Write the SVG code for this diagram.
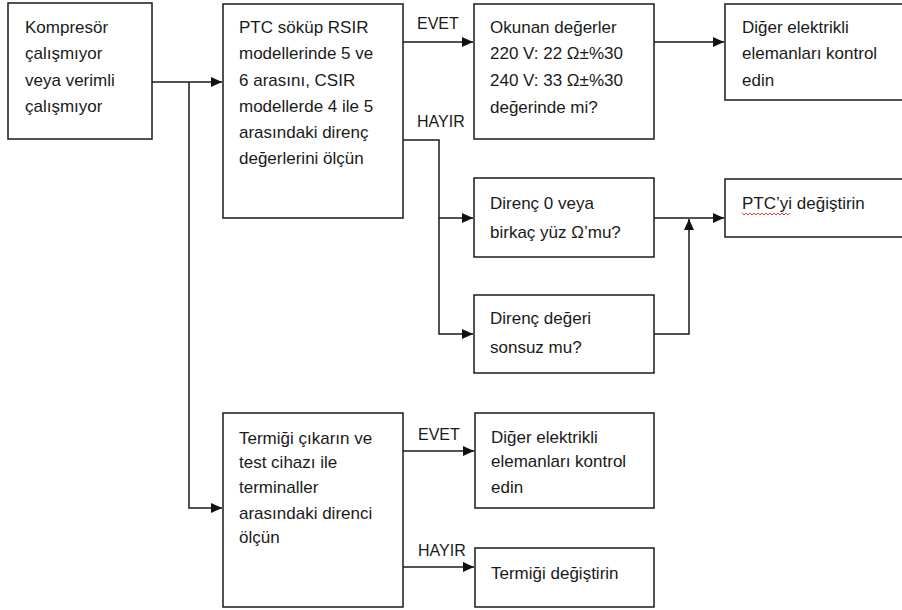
<svg xmlns="http://www.w3.org/2000/svg" width="902" height="610" viewBox="0 0 902 610">
<defs>
<style>
.box{fill:#fff;stroke:#1a1a1a;stroke-width:1.5}
.t{font-family:"Liberation Sans",Arial,sans-serif;font-size:17px;fill:#1a1a1a}
.lbl{font-family:"Liberation Sans",Arial,sans-serif;font-size:16px;fill:#1a1a1a}
.c{fill:none;stroke:#1a1a1a;stroke-width:1.5}
</style>
<marker id="ah" markerUnits="userSpaceOnUse" markerWidth="12" markerHeight="11" refX="11" refY="5" orient="auto">
<path d="M0,0 L11,5 L0,10 z" fill="#111"/>
</marker>
</defs>
<rect width="902" height="610" fill="#fff"/>
<g id="connectors">
<path class="c" d="M152,82 H222" marker-end="url(#ah)"/>
<path class="c" d="M189,82 V508 H222" marker-end="url(#ah)"/>
<path class="c" d="M403,42 H473" marker-end="url(#ah)"/>
<path class="c" d="M403,140 H439 V334 H473" marker-end="url(#ah)"/>
<path class="c" d="M439,218 H473" marker-end="url(#ah)"/>
<path class="c" d="M654,42 H724" marker-end="url(#ah)"/>
<path class="c" d="M654,218 H724" marker-end="url(#ah)"/>
<path class="c" d="M654,334 H689 V219" marker-end="url(#ah)"/>
<path class="c" d="M403,451 H474" marker-end="url(#ah)"/>
<path class="c" d="M403,567 H474" marker-end="url(#ah)"/>
<text class="lbl" x="417" y="29">EVET</text>
<text class="lbl" x="417" y="127">HAYIR</text>
<text class="lbl" x="418" y="440">EVET</text>
<text class="lbl" x="418" y="556">HAYIR</text>
</g>
<g id="n1">
<rect class="box" x="8" y="3" width="144" height="136"/>
<text class="t"><tspan x="25" y="33">Kompresör</tspan><tspan x="25" y="59">çalışmıyor</tspan><tspan x="25" y="86">veya verimli</tspan><tspan x="25" y="112">çalışmıyor</tspan></text>
</g>
<g id="n2">
<rect class="box" x="223" y="4" width="180" height="214"/>
<text class="t"><tspan x="239" y="33">PTC söküp RSIR</tspan><tspan x="239" y="59">modellerinde 5 ve</tspan><tspan x="239" y="86">6 arasını, CSIR</tspan><tspan x="239" y="112">modellerde 4 ile 5</tspan><tspan x="239" y="138">arasındaki direnç</tspan><tspan x="239" y="164">değerlerini ölçün</tspan></text>
</g>
<g id="n3">
<rect class="box" x="474" y="4" width="180" height="135"/>
<text class="t"><tspan x="490" y="33">Okunan değerler</tspan><tspan x="490" y="59">220 V: 22 Ω±%30</tspan><tspan x="490" y="86">240 V: 33 Ω±%30</tspan><tspan x="490" y="113">değerinde mi?</tspan></text>
</g>
<g id="n4">
<rect class="box" x="725" y="4" width="190" height="96"/>
<text class="t"><tspan x="742" y="33">Diğer elektrikli</tspan><tspan x="742" y="59">elemanları kontrol</tspan><tspan x="742" y="86">edin</tspan></text>
</g>
<g id="n5">
<rect class="box" x="474" y="178" width="180" height="79"/>
<text class="t"><tspan x="490" y="209">Direnç 0 veya</tspan><tspan x="490" y="238">birkaç yüz Ω’mu?</tspan></text>
</g>
<g id="n6">
<rect class="box" x="725" y="179" width="190" height="58"/>
<text class="t" x="742" y="209">PTC’yi değiştirin</text>
<path d="M742,213 l2,2 l2,-2 l2,2 l2,-2 l2,2 l2,-2 l2,2 l2,-2 l2,2 l2,-2 l2,2 l2,-2 l2,2 l2,-2 l2,2 l2,-2 l2,2 l2,-2 l2,2 l2,-2 l2,2 l2,-2 l2,2 l2,-2" fill="none" stroke="#e03030" stroke-width="0.9"/>
</g>
<g id="n7">
<rect class="box" x="474" y="295" width="180" height="78"/>
<text class="t"><tspan x="490" y="324">Direnç değeri</tspan><tspan x="490" y="353">sonsuz mu?</tspan></text>
</g>
<g id="n8">
<rect class="box" x="223" y="413" width="180" height="194"/>
<text class="t"><tspan x="239" y="444">Termiği çıkarın ve</tspan><tspan x="239" y="468">test cihazı ile</tspan><tspan x="239" y="493">terminaller</tspan><tspan x="239" y="519">arasındaki direnci</tspan><tspan x="239" y="543">ölçün</tspan></text>
</g>
<g id="n9">
<rect class="box" x="475" y="413" width="179" height="95"/>
<text class="t"><tspan x="491" y="443">Diğer elektrikli</tspan><tspan x="491" y="467">elemanları kontrol</tspan><tspan x="491" y="493">edin</tspan></text>
</g>
<g id="n10">
<rect class="box" x="475" y="548" width="179" height="59"/>
<text class="t" x="491" y="579">Termiği değiştirin</text>
</g>
</svg>
